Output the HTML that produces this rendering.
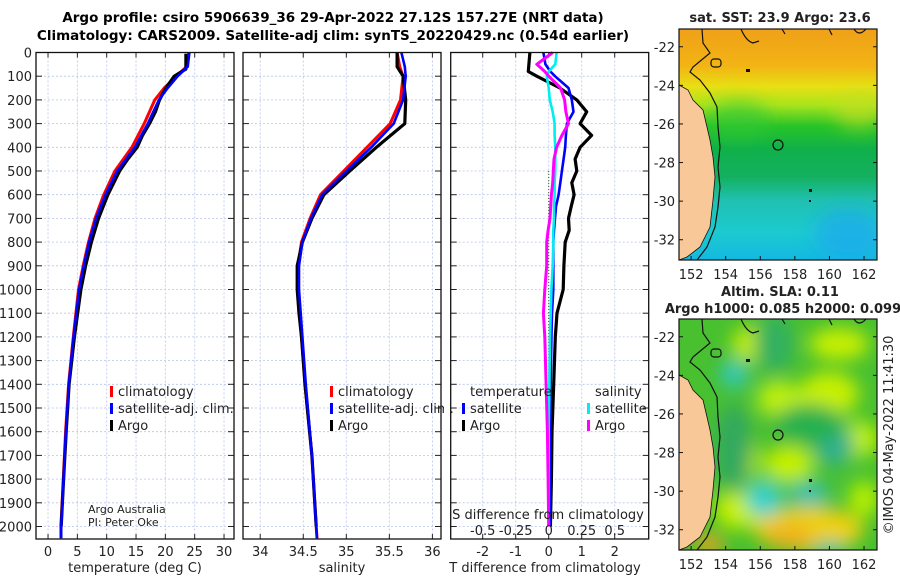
<!DOCTYPE html>
<html><head><meta charset="utf-8"><style>
html,body{margin:0;padding:0;background:#fff;}
svg{display:block;font-family:"DejaVu Sans","Liberation Sans",sans-serif;}
</style></head><body>
<svg id="fig" width="900" height="580" viewBox="0 0 900 580">
<defs>
<filter id="blur8" x="-50%" y="-50%" width="200%" height="200%"><feGaussianBlur stdDeviation="9"/></filter>
<filter id="blur3"><feGaussianBlur stdDeviation="3"/></filter>
<linearGradient id="sstGrad" x1="0" y1="0" x2="0" y2="1">
<stop offset="0" stop-color="#f0a018"/><stop offset="0.16" stop-color="#f2b414"/>
<stop offset="0.25" stop-color="#e8e014"/><stop offset="0.33" stop-color="#a8e41c"/>
<stop offset="0.42" stop-color="#28c428"/><stop offset="0.52" stop-color="#10b04a"/>
<stop offset="0.64" stop-color="#14b060"/><stop offset="0.74" stop-color="#20c0b0"/>
<stop offset="0.88" stop-color="#1ccad0"/><stop offset="1" stop-color="#14b8e0"/>
</linearGradient>
<clipPath id="clipMap1"><rect x="679" y="29" width="198" height="231"/></clipPath>
<clipPath id="clipMap2"><rect x="679" y="319" width="198" height="231"/></clipPath>
</defs>
<text x="333" y="22" text-anchor="middle" font-weight="bold" font-size="13.5">Argo profile: csiro 5906639_36 29-Apr-2022 27.12S 157.27E (NRT data)</text>
<text x="333" y="40" text-anchor="middle" font-weight="bold" font-size="13.5">Climatology: CARS2009. Satellite-adj clim: synTS_20220429.nc (0.54d earlier)</text>
<g id="panels"></g>
<g id="maps"></g>
<text transform="translate(893,435) rotate(-90)" text-anchor="middle" font-size="13" fill="#222">©IMOS 04-May-2022 11:41:30</text>
</svg>
<script>
// ---- data ----
const depthT = [0,60,100,150,200,300,400,500,600,700,800,900,1000,1200,1400,1600,1800,1900,2000,2050];
const tempClim = [24,23.6,21.9,19.8,18.2,16.4,14.3,11.4,9.5,8,6.9,6,5.2,4.3,3.5,3.0,2.6,2.4,2.2,2.2];
const tempSat = [24.1,23.8,22.1,20.4,18.9,17.0,14.8,11.8,9.8,8.2,7.0,6.1,5.3,4.35,3.55,3.05,2.65,2.45,2.25,2.25];
const depthArgo = [5,70,80,100,150,200,250,300,350,400,450,500,600,700,800,900,1000,1200,1400,1600,1800,2000];
const tempArgo = [23.5,23.5,22.8,21.5,20.1,19.0,18.3,17.3,16.1,15.2,13.6,12.2,10.2,8.6,7.4,6.4,5.6,4.5,3.6,3.1,2.65,2.25];
const depthS = [0,60,100,200,300,400,500,600,700,800,900,1000,1100,1200,1400,1700,2000,2050];
const salClim = [35.59,35.62,35.66,35.63,35.51,35.24,34.97,34.70,34.58,34.48,34.44,34.44,34.46,34.48,34.52,34.60,34.65,34.66];
const salSat = [35.64,35.68,35.69,35.66,35.55,35.29,35.0,34.72,34.59,34.49,34.45,34.45,34.47,34.49,34.53,34.60,34.65,34.66];
const salArgo = [35.59,35.59,35.66,35.69,35.68,35.35,35.04,34.74,34.60,34.49,34.43,34.43,34.45,34.48,34.52,34.60,34.65,null];
const depthD = [0,50,80,100,150,200,250,300,350,400,450,500,550,600,650,700,750,800,900,1000,1100,1200,1400,1600,1800,2000];
const dTArgo = [-0.57,-0.6,-0.62,-0.36,0.34,0.85,1.15,0.95,1.3,0.95,0.8,0.85,0.7,0.77,0.68,0.6,0.62,0.5,0.46,0.44,0.25,0.2,0.15,0.1,0.08,0.05];
const dTSat = [-0.16,-0.1,0.05,0.19,0.6,0.7,0.75,0.55,0.52,0.5,0.45,0.4,0.35,0.3,0.22,0.19,0.16,0.14,0.14,0.14,0.1,0.08,0.06,0.05,0.04,0.03];
const dSSat = [0.06,0.05,0.0,-0.015,0.0,0.008,0.03,0.045,0.045,0.05,0.05,0.05,0.045,0.045,0.04,0.04,0.035,0.035,0.03,0.02,0.015,0.01,0.005,0.0,0.0,0.0];
const dSArgo = [0.03,-0.09,-0.03,0.0,0.09,0.12,0.13,0.15,0.1,0.06,0.04,0.035,0.03,0.02,0.015,0.01,-0.005,-0.015,-0.015,-0.03,-0.04,-0.03,-0.02,-0.01,-0.005,0.0];
const depthTicks = [0,100,200,300,400,500,600,700,800,900,1000,1100,1200,1300,1400,1500,1600,1700,1800,1900,2000];
const tempTicks = [0,5,10,15,20,25,30];
const salTicks = [34,34.5,35,35.5,36];
const salTickLabels = ["34","34.5","35","35.5","36"];
const dTTicks = [-2,-1,0,1,2];
const dSTicks = [-0.5,-0.25,0,0.25,0.5];
const dSTickLabels = ["-0.5","-0.25","0","0.25","0.5"];

const NS = "http://www.w3.org/2000/svg";
function mk(tag, attrs, parent){const e=document.createElementNS(NS,tag);for(const k in attrs)e.setAttribute(k,attrs[k]);parent.appendChild(e);return e;}
const top0=52.5, bot=539;
function yD(d){return top0 + d*0.237;}
const G = document.getElementById('panels');

function panel(name, x0, x1, xmin, xmax){
  const g = mk('g',{},G);
  
  
  const sx = v => x0 + (v-xmin)/(xmax-xmin)*(x1-x0);
  return {g, sx};
}
function frameAndGrid(p, x0, x1, xticks){
  xticks.forEach(t=>{const x=p.sx(t);
    const l=mk('line',{x1:x,x2:x,y1:top0,y2:bot,stroke:'#b8c4ee','stroke-width':0.8,'stroke-dasharray':'2,2'},p.g);
    
    
    mk('line',{x1:x,x2:x,y1:bot,y2:bot-5,stroke:'#222'},p.g);
    mk('line',{x1:x,x2:x,y1:top0,y2:top0+5,stroke:'#222'},p.g);
  });
  depthTicks.forEach(d=>{const y=yD(d);
    const l=mk('line',{x1:x0,x2:x1,y1:y,y2:y,stroke:'#b8c4ee','stroke-width':0.8,'stroke-dasharray':'2,2'},p.g);
    
    
    mk('line',{x1:x0,x2:x0+6,y1:y,y2:y,stroke:'#222'},p.g);
    mk('line',{x1:x1,x2:x1-6,y1:y,y2:y,stroke:'#222'},p.g);
  });
}
function frame(p,x0,x1){
  const r=mk('rect',{x:x0,y:top0,width:x1-x0,height:bot-top0,fill:'none',stroke:'#111','stroke-width':1.3},p.g);
  
  
}
function line(p, depths, vals, color, w, name, sxf){
  const f = sxf || p.sx;
  let d='';let started=false;
  depths.forEach((dp,i)=>{ if(vals[i]===null||vals[i]===undefined) return;
    d += (started?'L':'M') + f(vals[i]).toFixed(1)+','+yD(dp).toFixed(1)+' '; started=true;});
  const e=mk('path',{d,fill:'none',stroke:color,'stroke-width':w,'stroke-linejoin':'round'},p.g);
  
  
}
function txt(parent,x,y,s,attrs){const t=mk('text',Object.assign({x,y,'font-size':13,fill:'#222'},attrs||{}),parent);t.textContent=s;return t;}
function legendBar(parent,x,y,color){mk('rect',{x:x,y:y-11,width:3,height:11,fill:color},parent);}

// Panel 1: temperature
const p1 = panel('temperature-panel',36,234,-2.05,31.7);
frameAndGrid(p1,36,234,tempTicks);
line(p1,depthT,tempClim,'#f00',3,'temp-climatology-line');
line(p1,depthArgo,tempArgo,'#000',3.2,'temp-argo-line');
line(p1,depthT,tempSat,'#00f',2.6,'temp-satellite-line');
frame(p1,36,234);
depthTicks.forEach(d=>{const t=txt(p1.g,32,yD(d)+5,String(d),{'text-anchor':'end'});
  
  });
tempTicks.forEach(v=>{const t=txt(p1.g,p1.sx(v),556,String(v),{'text-anchor':'middle'});
  
  });
{const t=txt(p1.g,135,572,'temperature (deg C)',{'text-anchor':'middle'});
  }
{const lg=mk('g',{},p1.g);  
 legendBar(lg,110,397,'#f00'); txt(lg,118,396,'climatology');
 legendBar(lg,110,414,'#00f'); txt(lg,118,413,'satellite-adj. clim.');
 legendBar(lg,110,431,'#000'); txt(lg,118,430,'Argo');}
{const c=mk('g',{},p1.g);  
 txt(c,88,513,'Argo Australia',{'font-size':11}); txt(c,88,526,'PI: Peter Oke',{'font-size':11});}

// Panel 2: salinity
const p2 = panel('salinity-panel',243,441,33.8,36.1);
frameAndGrid(p2,243,441,salTicks);
line(p2,depthS,salClim,'#f00',3,'sal-climatology-line');
line(p2,depthS,salArgo,'#000',3.2,'sal-argo-line');
line(p2,depthS,salSat,'#00f',2.6,'sal-satellite-line');
frame(p2,243,441);
salTicks.forEach((v,i)=>{const t=txt(p2.g,p2.sx(v),556,salTickLabels[i],{'text-anchor':'middle'});
  
  });
{const t=txt(p2.g,342,572,'salinity',{'text-anchor':'middle'});
  }
{const lg=mk('g',{},p2.g);  
 legendBar(lg,330,397,'#f00'); txt(lg,338,396,'climatology');
 legendBar(lg,330,414,'#00f'); txt(lg,338,413,'satellite-adj. clim.');
 legendBar(lg,330,431,'#000'); txt(lg,338,430,'Argo');}

// Panel 3: differences
const p3 = panel('difference-panel',450.7,648.7,-2.97,3.03);
const sxS = v => p3.sx(v*4);
mk('rect',{x:444,y:top0+1,width:6,height:bot-top0-2,fill:'#fff'},p3.g);
frameAndGrid(p3,450.7,648.7,dTTicks);
{const z=mk('line',{x1:p3.sx(0),x2:p3.sx(0),y1:yD(500),y2:yD(2000),stroke:'#3a5a20','stroke-width':1,'stroke-dasharray':'1,2'},p3.g);
  }
line(p3,depthD,dTArgo,'#000',3.2,'dT-argo-line');
line(p3,depthD,dTSat,'#00f',2.6,'dT-satellite-line');
line(p3,depthD,dSSat,'#0ee',2.6,'dS-satellite-line',sxS);
line(p3,depthD,dSArgo,'#f0f',3,'dS-argo-line',sxS);
frame(p3,450.7,648.7);
dTTicks.forEach(v=>{const t=txt(p3.g,p3.sx(v),556,String(v),{'text-anchor':'middle'});
  
  });
dSTicks.forEach((v,i)=>{const t=txt(p3.g,sxS(v),535,dSTickLabels[i],{'text-anchor':'middle'});
  
  });
{const t=txt(p3.g,548,519,'S difference from climatology',{'text-anchor':'middle'});
  }
{const t=txt(p3.g,545,572,'T difference from climatology',{'text-anchor':'middle'});
  }
{const lg=mk('g',{},p3.g);  
 txt(lg,470,396,'temperature');
 legendBar(lg,462,414,'#00f'); txt(lg,470,413,'satellite');
 legendBar(lg,462,431,'#000'); txt(lg,470,430,'Argo');
 txt(lg,595,396,'salinity');
 legendBar(lg,587,414,'#0ee'); txt(lg,595,413,'satellite');
 legendBar(lg,587,431,'#f0f'); txt(lg,595,430,'Argo');}

// ---- maps ----
const lonTicks = [152,154,156,158,160,162];
const latTicks = [-22,-24,-26,-28,-30,-32];
const lonMin=151.3, lonMax=162.75, latTop=-21.08, latBot=-33.05;
const M = document.getElementById('maps');
const land = [[0,56],[9,61],[14,71],[24,81],[28,98],[31,111],[34,128],[36,148],[34,171],[31,198],[21,218],[8,228],[0,231]];
const iso = [[23,0],[24,14],[31,24],[14,38],[11,43],[21,51],[31,64],[38,78],[39,98],[41,118],[39,138],[41,158],[39,178],[36,198],[28,218],[18,231]];
function drawMap(name, y0, kind){
  const x0=679,w=198,h=231;
  const g=mk('g',{},M);
  
  
  const f=mk('g',{'clip-path':'url(#clipMap'+kind+')'},g);
  if(kind===1){
    mk('rect',{x:x0,y:y0,width:w,height:h,fill:'url(#sstGrad)'},f);
    const bl=mk('g',{filter:'url(#blur8)'},f);
    mk('ellipse',{cx:x0+170,cy:y0+205,rx:35,ry:25,fill:'#18a8f0',opacity:0.7},bl);
    mk('ellipse',{cx:x0+60,cy:y0+90,rx:30,ry:18,fill:'#30c838',opacity:0.6},bl);
    mk('ellipse',{cx:x0+180,cy:y0+80,rx:25,ry:20,fill:'#c8e020',opacity:0.6},bl);
  } else {
    mk('rect',{x:x0,y:y0,width:w,height:h,fill:'#48c030'},f);
    const bl=mk('g',{filter:'url(#blur8)'},f);
    [[75,25,22,18,'#c8f000'],[160,25,30,16,'#c8f000'],[150,75,30,22,'#c8f000'],[100,80,22,18,'#c0f010'],
     [60,140,20,25,'#c8f000'],[110,145,25,18,'#c8f000'],[180,120,20,18,'#c0f000'],[60,190,25,20,'#c8f000'],
     [130,210,55,22,'#f0d010'],[110,218,25,12,'#f0b020'],[30,225,15,10,'#f0a020'],[185,180,15,18,'#b8f000'],
     [55,55,14,14,'#30c8c0'],[95,25,20,30,'#30b060'],[155,125,20,22,'#30b090'],[85,180,18,18,'#30d0d0'],
     [130,175,20,12,'#30c0b8'],[55,130,18,45,'#30a860'],[130,105,35,20,'#28b050'],[150,230,15,8,'#30c0b0']]
     .forEach(b=>mk('ellipse',{cx:x0+b[0],cy:y0+b[1],rx:b[2],ry:b[3],fill:b[4]},bl));
  }
  let lp='M'+land.map(p=>(x0+p[0])+','+(y0+p[1])).join(' L')+' Z';
  const L=mk('path',{d:lp,fill:'#f9c898',stroke:'#111','stroke-width':0.8},f);
  
  
  mk('path',{d:'M'+iso.map(p=>(x0+p[0])+','+(y0+p[1])).join(' L'),fill:'none',stroke:'#111','stroke-width':1.2},f);
  mk('path',{d:`M${x0+62},${y0} q5,12 12,14 l6,-2 M${x0+103},${y0} l3,5 M${x0+150},${y0} l3,6 M${x0+175},${y0} q5,8 12,0`,fill:'none',stroke:'#111','stroke-width':1.2},f);
  mk('rect',{x:x0+32,y:y0+30,width:10,height:8,fill:'none',stroke:'#111','stroke-width':1.2,rx:3},f);
  mk('rect',{x:x0+67,y:y0+40,width:4,height:3,fill:'#111'},f);
  mk('rect',{x:x0+130,y:y0+160,width:3,height:3,fill:'#111'},f);
  mk('rect',{x:x0+130,y:y0+171,width:2,height:2,fill:'#111'},f);
  const c=mk('circle',{cx:x0+99,cy:y0+116,r:5,fill:'none',stroke:'#111','stroke-width':1.2},g);
  
  
  mk('rect',{x:x0,y:y0,width:w,height:h,fill:'none',stroke:'#111','stroke-width':1.2},g);
  const sx=v=>x0+(v-lonMin)/(lonMax-lonMin)*w, sy=v=>y0+(v-latTop)/(latBot-latTop)*h;
  lonTicks.forEach(v=>{const x=sx(v);
    mk('line',{x1:x,x2:x,y1:y0+h,y2:y0+h-4,stroke:'#111'},g);
    const t=txt(g,x,y0+h+19,String(v),{'text-anchor':'middle'});
    
    });
  latTicks.forEach(v=>{const y=sy(v);
    mk('line',{x1:x0,x2:x0+4,y1:y,y2:y,stroke:'#111'},g);
    mk('line',{x1:x0+w,x2:x0+w-4,y1:y,y2:y,stroke:'#111'},g);
    const t=txt(g,x0-4,y+5,String(v),{'text-anchor':'end'});
    
    });
}
drawMap('sst-map',29,1);
drawMap('sla-map',319,2);
{const t=txt(M,780,22,'sat. SST: 23.9 Argo: 23.6',{'text-anchor':'middle','font-weight':'bold'});
  }
{const t=txt(M,780,296,'Altim. SLA: 0.11',{'text-anchor':'middle','font-weight':'bold'});
  }
{const t=txt(M,783,313,'Argo h1000: 0.085 h2000: 0.099',{'text-anchor':'middle','font-weight':'bold'});
  }
</script>
</body></html>
